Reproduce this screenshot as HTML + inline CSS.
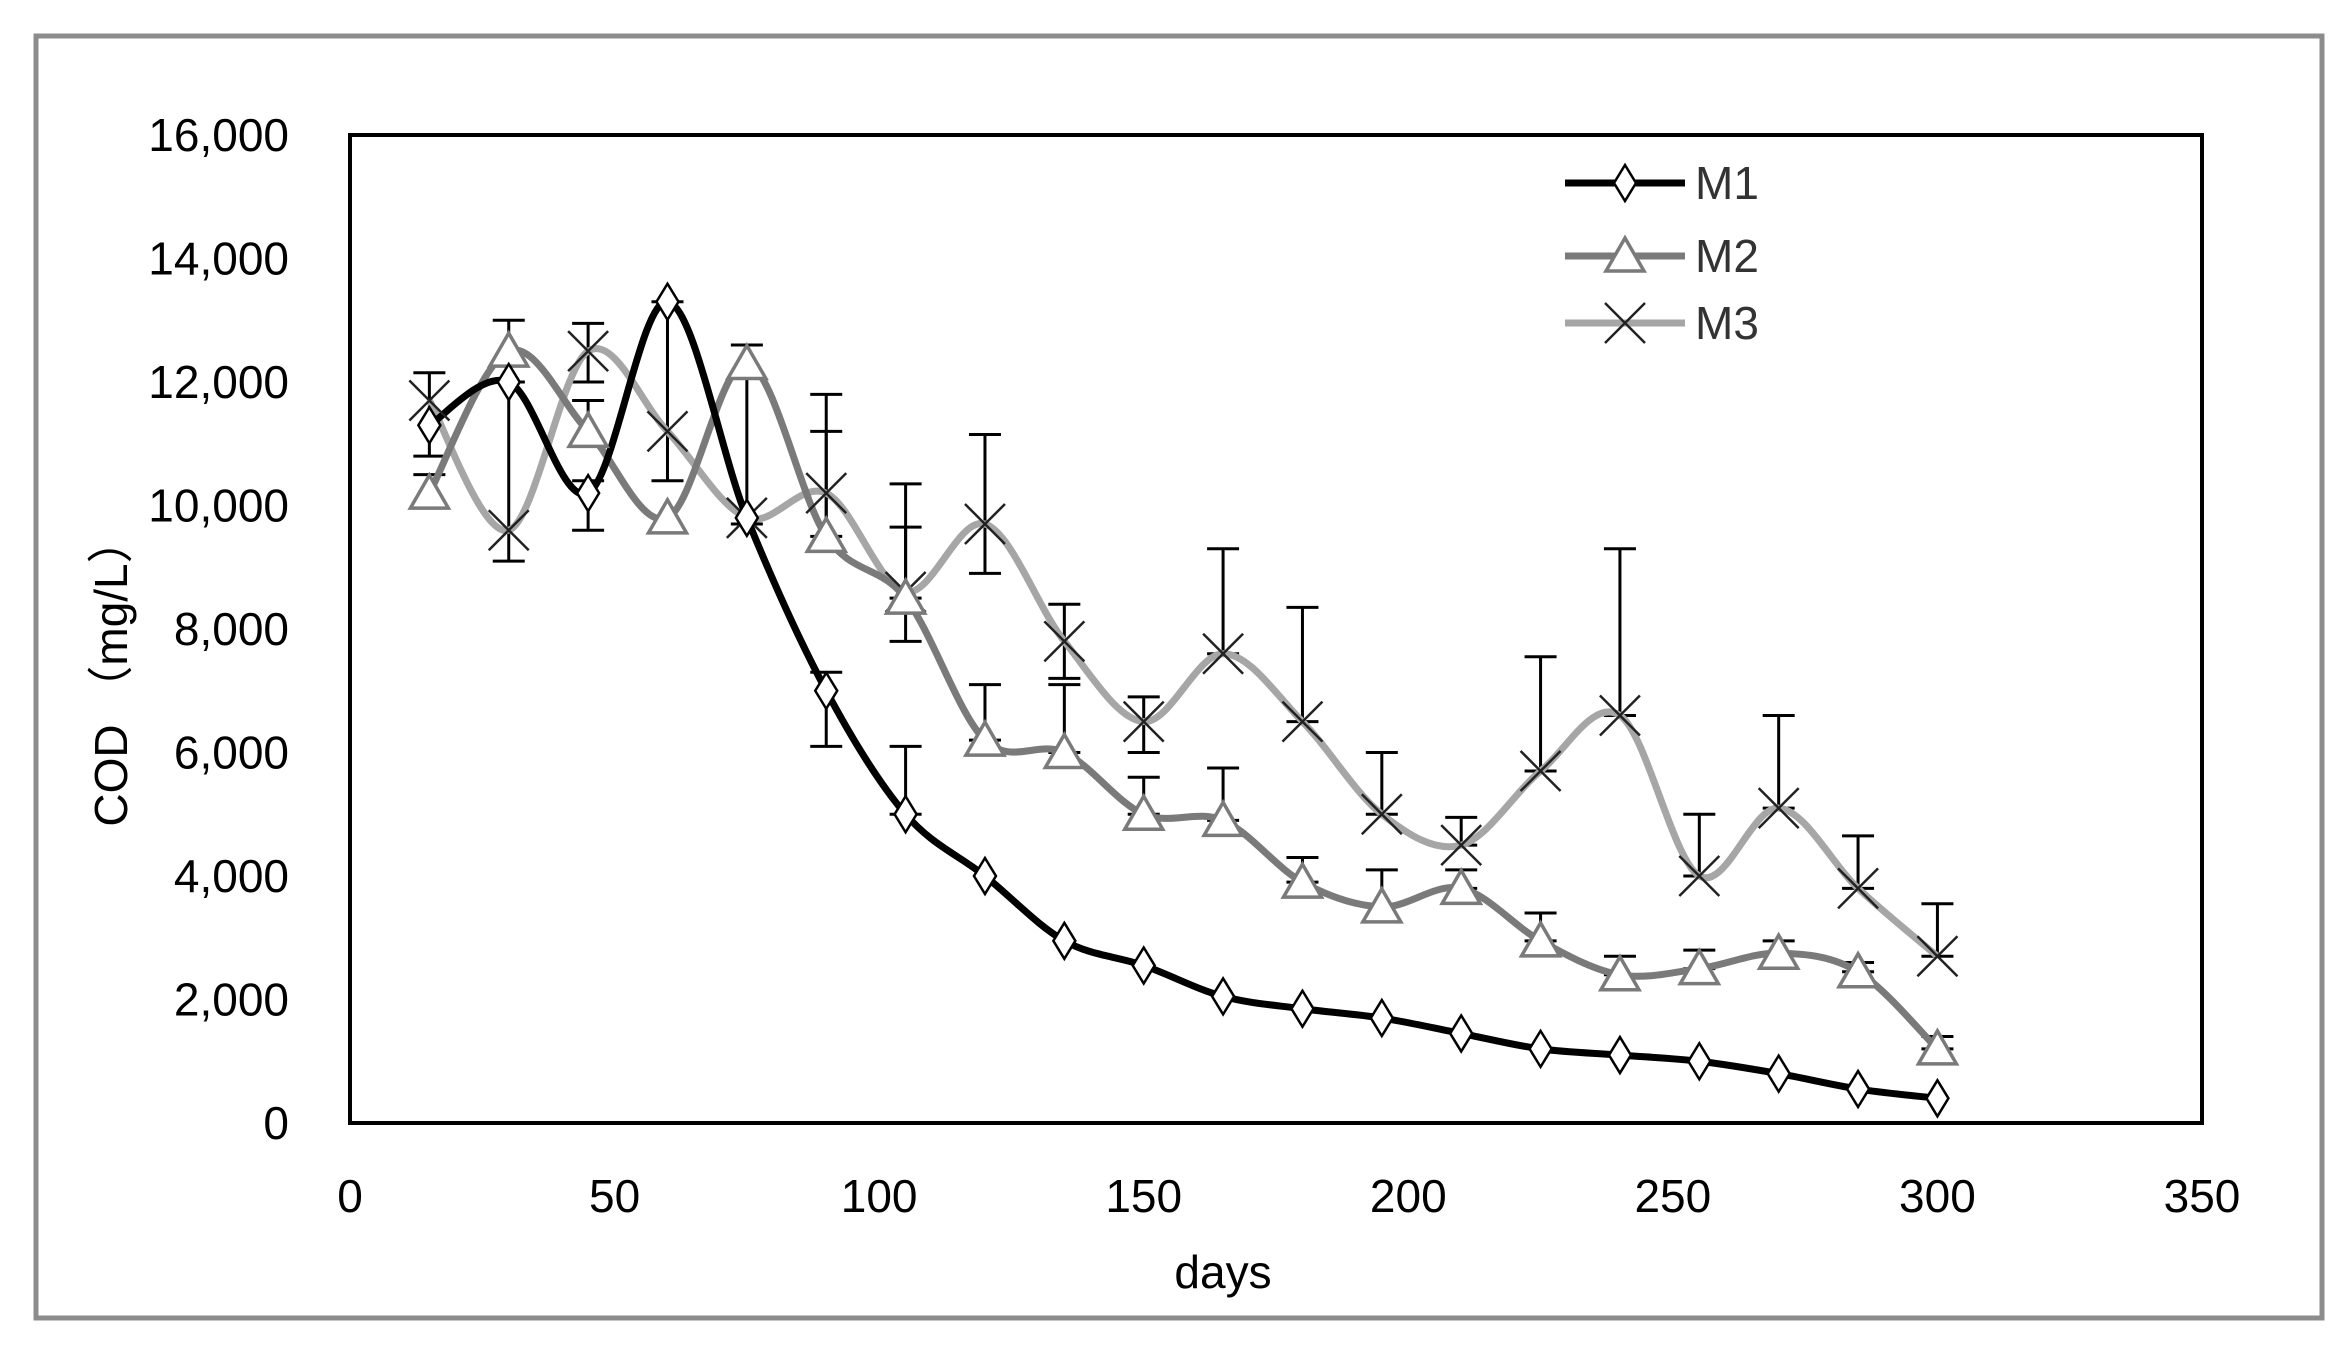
<!DOCTYPE html>
<html><head><meta charset="utf-8"><style>
html,body{margin:0;padding:0;background:#fff;}
svg{display:block;}
text{font-family:"Liberation Sans","Noto Sans CJK SC",sans-serif;font-size:46px;fill:#000;}
</style></head><body>
<svg id="s" width="2348" height="1349" xmlns="http://www.w3.org/2000/svg">
<rect x="36" y="36" width="2286" height="1282" fill="#fff" stroke="#8c8c8c" stroke-width="5"/>
<rect x="350" y="135" width="1852" height="988" fill="none" stroke="#000" stroke-width="4"/>
<g id="yl" text-anchor="end"></g>
<g id="xl" text-anchor="middle"></g>
<text x="1223" y="1288" text-anchor="middle">days</text>
<text transform="translate(127,672) rotate(-90)" text-anchor="middle">COD （mg/L）</text>
<g id="plot"></g>
<g id="leg"></g>
</svg>
<script>
var NS="http://www.w3.org/2000/svg";
function X(d){return 350+d*1852/350;}
function Y(v){return 1123-v*988/16000;}
function el(p,t,a,txt){var e=document.createElementNS(NS,t);for(var k in a)e.setAttribute(k,a[k]);if(txt!==undefined)e.textContent=txt;document.getElementById(p).appendChild(e);return e;}
for(var v=0;v<=16000;v+=2000){el("yl","text",{x:289,y:Y(v)+16},v===0?"0":(v/1000)+",000");}
for(var d=0;d<=350;d+=50){el("xl","text",{x:X(d),y:1212},String(d));}
var days=[];for(var i=15;i<=300;i+=15)days.push(i);
var M1=[11300,12000,10200,13300,9800,7000,5000,4000,2950,2550,2050,1850,1700,1450,1200,1100,1000,800,550,400];
var M2=[10200,12500,11200,9800,12300,9500,8500,6200,6000,5000,4900,3900,3500,3800,2950,2400,2500,2750,2450,1200];
var M3=[11700,9600,12500,11200,9800,10200,8600,9700,7800,6500,7600,6500,5000,4500,5700,6600,4000,5100,3800,2700];
function path(vals){var p=days.map(function(d,i){return [X(d),Y(vals[i])];});
var s="M"+p[0][0]+","+p[0][1];
for(var i=0;i<p.length-1;i++){var p0=p[i-1]||p[i],p1=p[i],p2=p[i+1],p3=p[i+2]||p[i+1];
var t=6;var c1=[p1[0]+(p2[0]-p0[0])/t,p1[1]+(p2[1]-p0[1])/t],c2=[p2[0]-(p3[0]-p1[0])/t,p2[1]-(p3[1]-p1[1])/t];
s+=" C"+c1+" "+c2+" "+p2;}return s;}
var eb=[[15,10800,12150],[15,10000,10500],[30,9100,12000],[30,12000,13000],[45,9600,10400],[45,11000,11700],[45,12000,12950],[60,10400,13300],[75,9700,12600],[90,6100,7300],[90,9300,11800],[90,9500,11200],
[105,7800,10350],[105,5000,6100],[105,8500,9650],[120,8900,11150],[120,6200,7100],[135,7200,8400],[135,6000,7100],[150,6000,6900],[150,5000,5600],[165,7600,9300],[165,4900,5750],
[180,6500,8350],[180,3900,4300],[195,5000,6000],[195,3500,4100],[210,4500,4950],[210,3800,4100],[225,5700,7550],[225,2950,3400],[240,6600,9300],[240,2400,2700],[255,4000,5000],[255,2500,2800],[270,5100,6600],[270,2750,2950],[285,3800,4650],[285,2450,2600],[300,2700,3550],[300,1200,1400]];
eb.forEach(function(e){var x=X(e[0]);el("plot","line",{x1:x,x2:x,y1:Y(e[1]),y2:Y(e[2]),stroke:"#000","stroke-width":3});
[e[1],e[2]].forEach(function(v){el("plot","line",{x1:x-16,x2:x+16,y1:Y(v),y2:Y(v),stroke:"#000","stroke-width":3});});});
el("plot","path",{d:path(M3),fill:"none",stroke:"#a6a6a6","stroke-width":7});
el("plot","path",{d:path(M2),fill:"none",stroke:"#7a7a7a","stroke-width":7});
el("plot","path",{d:path(M1),fill:"none",stroke:"#000","stroke-width":7});
function tri(g,x,y){el(g,"path",{d:"M"+x+","+(y-18)+" L"+(x+19)+","+(y+15)+" L"+(x-19)+","+(y+15)+"Z",fill:"#fff",stroke:"#7a7a7a","stroke-width":3.5});}
function dia(g,x,y){el(g,"path",{d:"M"+x+","+(y-18)+" L"+(x+11)+","+y+" L"+x+","+(y+18)+" L"+(x-11)+","+y+"Z",fill:"#fff",stroke:"#000","stroke-width":2.5});}
function cross(g,x,y){el(g,"path",{d:"M"+(x-20)+","+(y-20)+" L"+(x+20)+","+(y+20)+" M"+(x+20)+","+(y-20)+" L"+(x-20)+","+(y+20),stroke:"#222","stroke-width":2.5});}
days.forEach(function(d,i){cross("plot",X(d),Y(M3[i]));tri("plot",X(d),Y(M2[i]));dia("plot",X(d),Y(M1[i]));});
var L=[["M1","#000",183,dia],["M2","#7a7a7a",256,tri],["M3","#a6a6a6",323,cross]];
L.forEach(function(l){el("leg","line",{x1:1565,x2:1685,y1:l[2],y2:l[2],stroke:l[1],"stroke-width":7});l[3]("leg",1625,l[2]);
el("leg","text",{x:1695,y:l[2]+16,style:"fill:#333"},l[0]);});
</script>
</body></html>
